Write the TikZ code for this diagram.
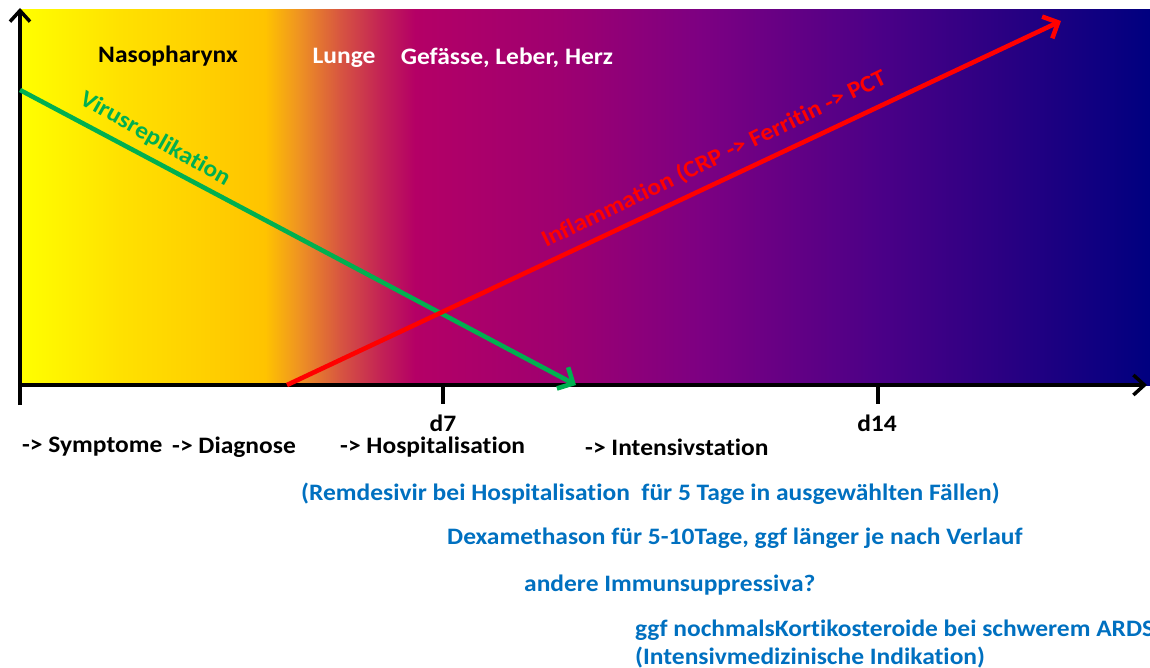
\documentclass[tikz,border=0pt]{standalone}
\usepackage{fontspec}
\setmainfont{Carlito}[Ligatures={NoCommon,NoContextual},FakeStretch=1.08]
\usetikzlibrary{arrows.meta}
\definecolor{gA}{RGB}{255,255,0}
\definecolor{gB}{RGB}{255,225,0}
\definecolor{gC}{RGB}{255,195,0}
\definecolor{gD}{RGB}{238,145,35}
\definecolor{gE}{RGB}{215,85,65}
\definecolor{gF}{RGB}{195,35,85}
\definecolor{gG}{RGB}{180,0,102}
\definecolor{gH}{RGB}{158,0,112}
\definecolor{gI}{RGB}{125,0,130}
\definecolor{gJ}{RGB}{75,0,135}
\definecolor{gK}{RGB}{40,0,130}
\definecolor{gL}{RGB}{0,0,128}
\definecolor{vgreen}{RGB}{0,176,80}
\definecolor{tblue}{RGB}{0,112,192}
\tikzset{
  axisline/.style={line width=3.5pt, black, -{Straight Barb[length=11pt,width=20pt,line width=3.5pt]}},
  tickline/.style={line width=3.5pt, black},
  lbl/.style={font=\bfseries\fontsize{23.6}{28}\selectfont, inner sep=0pt},
  bluetxt/.style={lbl, text=tblue, anchor=west},
  curve/.style={line width=4.6pt, -{Straight Barb[length=12pt,width=24pt,line width=4.6pt]}},
}
\begin{document}
\begin{tikzpicture}[x=1pt,y=-1pt]
\clip (0,0) rectangle (1150,668);
\useasboundingbox (0,0) rectangle (1150,668);
% gradient background
\shade[left color=gA,right color=gB] (20,10) rectangle (120.5,385);
\shade[left color=gB,right color=gC] (120,10) rectangle (265.5,385);
\shade[left color=gC,right color=gD] (265,10) rectangle (300.5,385);
\shade[left color=gD,right color=gE] (300,10) rectangle (340.5,385);
\shade[left color=gE,right color=gF] (340,10) rectangle (380.5,385);
\shade[left color=gF,right color=gG] (380,10) rectangle (415.5,385);
\shade[left color=gG,right color=gH] (415,10) rectangle (560.5,385);
\shade[left color=gH,right color=gI] (560,10) rectangle (700.5,385);
\shade[left color=gI,right color=gJ] (700,10) rectangle (880.5,385);
\shade[left color=gJ,right color=gK] (880,10) rectangle (1010.5,385);
\shade[left color=gK,right color=gL] (1010,10) rectangle (1150,385);
% coordinates
\coordinate (o) at (20,385);
\coordinate (ybot) at (20,405);
\coordinate (ytop) at (20,8);
\coordinate (xend) at (1147,385);
\coordinate (t7a) at (443,385);
\coordinate (t7b) at (443,404);
\coordinate (t14a) at (878,385);
\coordinate (t14b) at (878,404);
\coordinate (g0) at (20,90);
\coordinate (g1) at (576,385);
\coordinate (r0) at (287,385);
\coordinate (r1) at (1061,21);
% axes
\draw[axisline] (ybot) -- (ytop);
\draw[axisline] (o) -- (xend);
\draw[tickline] (t7a) -- (t7b);
\draw[tickline] (t14a) -- (t14b);
% curves
\draw[curve, vgreen] (g0) -- (g1);
\draw[curve, red] (r0) -- (r1);
% labels in chart
\node[lbl, text=black] (naso) at (168,56) {Nasopharynx};
\node[lbl, text=white] (lunge) at (344,58) {Lunge};
\node[lbl, text=white] (gef) at (507,58) {Gefässe, Leber, Herz};
\node[lbl, text=vgreen, rotate=-29.5] (virus) at (155,139) {Virusreplikation};
\node[lbl, text=red, rotate=25.8] (infl) at (714,159) {Inflammation (CRP -> Ferritin -> PCT};
% axis labels
\node[lbl] (d7) at (443,423) {d7};
\node[lbl] (d14) at (877,423) {d14};
\node[lbl, anchor=west] (sym) at (22,447) {-> Symptome};
\node[lbl, anchor=west] (diag) at (172,447) {-> Diagnose};
\node[lbl, anchor=west] (hosp) at (340,447) {-> Hospitalisation};
\node[lbl, anchor=west] (icu) at (585,447) {-> Intensivstation};
% therapy texts
\node[bluetxt] (remd) at (301,494) {(Remdesivir bei Hospitalisation\ \ für 5 Tage in ausgewählten Fällen)};
\node[bluetxt] (dexa) at (447,538) {Dexamethason für 5-10Tage, ggf länger je nach Verlauf};
\node[bluetxt] (immu) at (524,585) {andere Immunsuppressiva?};
\node[bluetxt] (kort) at (635,630) {ggf nochmalsKortikosteroide bei schwerem ARDS};
\node[bluetxt] (ind) at (635,658) {(Intensivmedizinische Indikation)};
\end{tikzpicture}
\end{document}
